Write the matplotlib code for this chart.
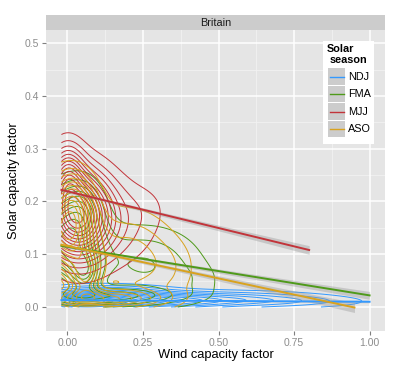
import numpy as np
import matplotlib
matplotlib.use("Agg")
import matplotlib.pyplot as plt
from matplotlib.patches import Rectangle

plt.rcParams['font.family'] = ['Liberation Sans', 'DejaVu Sans']

# ---------------- data ----------------
seasons = ["NDJ", "FMA", "MJJ", "ASO"]
colors = ["#3399FF", "#4F9A1A", "#C2343A", "#D9A21E"]

# data range of each season (x: wind, y: solar)
x_min = [-0.02, -0.02, -0.02, -0.02]
x_max = [1.00, 1.00, 0.80, 0.95]
y_min = [0.00, 0.00, 0.00, 0.00]
y_max = [0.06, 0.30, 0.50, 0.32]

# density components: centre x, centre y, sd x, sd y, weight
ndj_comp_cx = [0.04, 0.20, 0.45, 0.75, 0.12, 0.60]
ndj_comp_cy = [0.008, 0.010, 0.012, 0.010, 0.028, 0.022]
ndj_comp_sx = [0.10, 0.18, 0.20, 0.18, 0.14, 0.20]
ndj_comp_sy = [0.010, 0.011, 0.010, 0.008, 0.010, 0.008]
ndj_comp_w = [1.00, 0.70, 0.35, 0.18, 0.40, 0.10]

fma_comp_cx = [0.00, 0.06, 0.25, 0.42, 0.12, 0.05]
fma_comp_cy = [0.12, 0.065, 0.08, 0.045, 0.020, 0.19]
fma_comp_sx = [0.07, 0.03, 0.13, 0.07, 0.15, 0.04]
fma_comp_sy = [0.06, 0.025, 0.05, 0.025, 0.012, 0.035]
fma_comp_w = [1.00, 0.45, 0.30, 0.08, 0.45, 0.25]

mjj_comp_cx = [0.03, 0.00, 0.15, 0.27]
mjj_comp_cy = [0.175, 0.25, 0.16, 0.19]
mjj_comp_sx = [0.07, 0.035, 0.10, 0.05]
mjj_comp_sy = [0.055, 0.040, 0.055, 0.03]
mjj_comp_w = [1.00, 0.40, 0.18, 0.03]

aso_comp_cx = [0.00, 0.06, 0.20, 0.35, 0.10, 0.03]
aso_comp_cy = [0.15, 0.055, 0.09, 0.07, 0.015, 0.21]
aso_comp_sx = [0.06, 0.035, 0.10, 0.06, 0.13, 0.035]
aso_comp_sy = [0.055, 0.030, 0.060, 0.04, 0.012, 0.03]
aso_comp_w = [1.00, 0.45, 0.30, 0.08, 0.50, 0.20]

n_levels = [15, 10, 15, 12]

# linear fits: start/end x and y
fit_x0 = [-0.02, -0.02, -0.02, -0.02]
fit_x1 = [1.00, 1.00, 0.80, 0.95]
fit_y0 = [0.013, 0.116, 0.222, 0.118]
fit_y1 = [0.010, 0.022, 0.108, -0.001]
# confidence band half-width: minimum, growth, centre x
band_a = [0.0010, 0.0025, 0.0030, 0.0025]
band_b = [0.0020, 0.0080, 0.0110, 0.0110]
band_c = [0.15, 0.12, 0.10, 0.12]

components = [
    (ndj_comp_cx, ndj_comp_cy, ndj_comp_sx, ndj_comp_sy, ndj_comp_w),
    (fma_comp_cx, fma_comp_cy, fma_comp_sx, fma_comp_sy, fma_comp_w),
    (mjj_comp_cx, mjj_comp_cy, mjj_comp_sx, mjj_comp_sy, mjj_comp_w),
    (aso_comp_cx, aso_comp_cy, aso_comp_sx, aso_comp_sy, aso_comp_w),
]

xticks = [0.00, 0.25, 0.50, 0.75, 1.00]
xtick_labels = ["0.00", "0.25", "0.50", "0.75", "1.00"]
yticks = [0.0, 0.1, 0.2, 0.3, 0.4, 0.5]
ytick_labels = ["0.0", "0.1", "0.2", "0.3", "0.4", "0.5"]

# ---------------- figure ----------------
W, H = 399, 370
fig = plt.figure(figsize=(W / 100, H / 100), dpi=100)
px = lambda v: v / W
py = lambda v: 1 - v / H
left, right, top, bottom = 46, 385, 30, 331
ax = fig.add_axes([px(left), py(bottom), px(right - left), (bottom - top) / H])
ax.set_facecolor("#E5E5E5")
ax.set_xlim(-0.071, 1.051)
ax.set_ylim(-0.0455, 0.525)
for s in ax.spines.values():
    s.set_visible(False)

# grid
for v in [0.125, 0.375, 0.625, 0.875]:
    ax.axvline(v, color="#F2F2F2", lw=0.6, zorder=0)
for v in [0.05, 0.15, 0.25, 0.35, 0.45]:
    ax.axhline(v, color="#F2F2F2", lw=0.6, zorder=0)
for v in xticks:
    ax.axvline(v, color="white", lw=1.1, zorder=0)
for v in yticks:
    ax.axhline(v, color="white", lw=1.1, zorder=0)

# contours
for i, s in enumerate(seasons):
    gx = np.linspace(x_min[i], x_max[i], 140)
    gy = np.linspace(y_min[i], y_max[i], 140)
    X, Y = np.meshgrid(gx, gy)
    Z = np.zeros_like(X)
    cx, cy, sx, sy, w = components[i]
    for k in range(len(cx)):
        Z += w[k] * np.exp(-0.5 * ((X - cx[k]) / sx[k]) ** 2 - 0.5 * ((Y - cy[k]) / sy[k]) ** 2)
    Z /= Z.max()
    lv = np.linspace(0, 1, n_levels[i] + 2)[1:-1]
    ax.contour(X, Y, Z, levels=lv, colors=colors[i], linewidths=0.7, zorder=2)

# fits with bands
for i, s in enumerate(seasons):
    xs = np.linspace(fit_x0[i], fit_x1[i], 100)
    ys = fit_y0[i] + (fit_y1[i] - fit_y0[i]) * (xs - fit_x0[i]) / (fit_x1[i] - fit_x0[i])
    se = np.sqrt(band_a[i] ** 2 + (band_b[i] * (xs - band_c[i])) ** 2)
    ax.fill_between(xs, ys - se, ys + se, color="#999999", alpha=0.4, lw=0, zorder=3)
    ax.plot(xs, ys, color=colors[i], lw=1.4, zorder=4)

# ticks
ax.set_xticks(xticks)
ax.set_xticklabels(xtick_labels)
ax.set_yticks(yticks)
ax.set_yticklabels(ytick_labels)
ax.tick_params(axis="both", colors="#7F7F7F", labelcolor="#8C8C8C", labelsize=7.5,
               length=3, width=0.8, pad=2)
ax.set_xlabel("Wind capacity factor", fontsize=9.3, labelpad=1)
ax.set_ylabel("Solar capacity factor", fontsize=9.3, labelpad=3)

# strip
fig.patches.append(Rectangle((px(left), py(30)), px(right - left), 15 / H,
                             transform=fig.transFigure, facecolor="#CCCCCC", edgecolor="none"))
fig.text(px((left + right) / 2), py(22.5), "Britain", ha="center", va="center", fontsize=7.8,
         color="#1A1A1A")

# legend (manual, ggplot style)
lx0, ly0, lx1, ly1 = 323, 41, 374, 144
fig.patches.append(Rectangle((px(lx0), py(ly1)), px(lx1 - lx0), (ly1 - ly0) / H,
                             transform=fig.transFigure, facecolor="white", edgecolor="none", zorder=5))
fig.text(px(327), py(49), "Solar", ha="left", va="center", fontsize=7.8, fontweight="bold", zorder=6)
fig.text(px(330), py(60), "season", ha="left", va="center", fontsize=7.8, fontweight="bold", zorder=6)
key_top = 68
key_h = 17.5
for i, s in enumerate(seasons):
    ky = key_top + i * key_h
    fig.patches.append(Rectangle((px(328), py(ky + key_h - 0.8)), px(17), (key_h - 0.8) / H,
                                 transform=fig.transFigure, facecolor="#CCCCCC", edgecolor="none",
                                 zorder=6))
    fig.add_artist(plt.Line2D([px(329.5), px(343.5)], [py(ky + key_h / 2)] * 2, color=colors[i],
                              lw=1.0, transform=fig.transFigure, zorder=7))
    fig.text(px(348), py(ky + key_h / 2), s, ha="left", va="center", fontsize=7.8, zorder=7)

fig.savefig("out.png", dpi=100)
